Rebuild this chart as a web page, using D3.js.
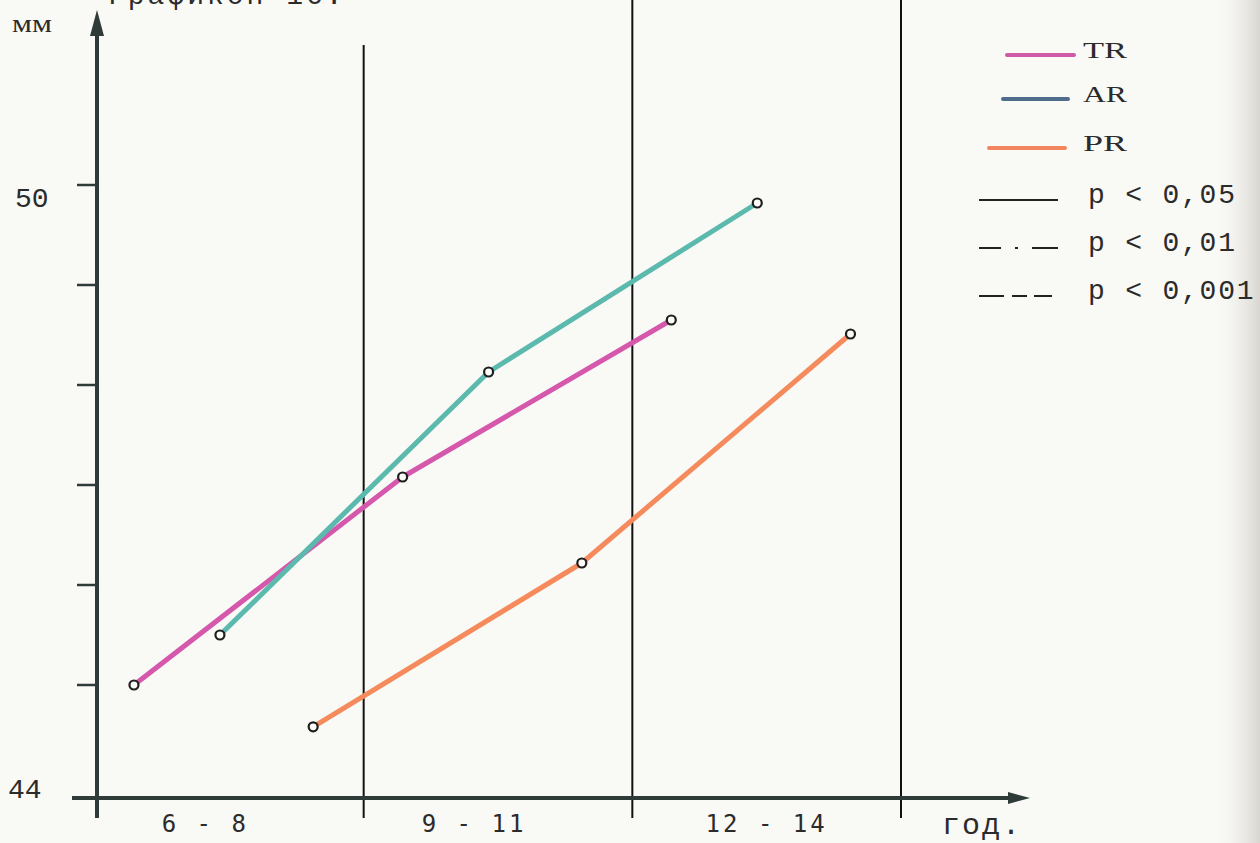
<!DOCTYPE html>
<html>
<head>
<meta charset="utf-8">
<script src="https://cdn.jsdelivr.net/npm/d3@7"></script>
<style>
  html, body { margin: 0; padding: 0; background: #f9f9f6; }
  svg { display: block; }
  .mono { font-family: "Liberation Mono", "Courier New", monospace; fill: #2b2b2b; }
  .serif { font-family: "Liberation Serif", "DejaVu Serif", serif; fill: #2b2b2b; }
  .cat { font-family: "DejaVu Sans Mono", "DejaVu Sans", sans-serif; fill: #2b2b2b; }
</style>
</head>
<body>
<svg width="1260" height="843"></svg>
<script>
const WIDTH = 1260;
const HEIGHT = 843;

// age groups (x axis)
const groups = ['6 - 8', '9 - 11', '12 - 14'];
// rotation types
const series = ['TR', 'AR', 'PR'];
// mean values, mm
const trValues = [45.00, 47.08, 48.65];
const arValues = [45.50, 48.13, 49.82];
const prValues = [44.63, 46.22, 48.51];
const yTicks = [44, 45, 46, 47, 48, 49, 50];
const yLabels = [44, 50];
const pLabels = ['p < 0,05', 'p < 0,01', 'p < 0,001'];

const lineColors = { TR: '#d558ac', AR: '#5cb9ae', PR: '#f58b5c' };
const legendColors = { TR: '#d05aa9', AR: '#4f6d8b', PR: '#f2865e' };
const pDash = ['none', '22,14,3,14,26', '25,8,15,7,18'];
const AXIS = '#2e3b38';

let svg = d3.select('svg');

svg.append('rect')
   .attr('width', WIDTH)
   .attr('height', HEIGHT)
   .attr('fill', '#f9f9f6');

// page curl shading on the right edge
let grad = svg.append('defs').append('linearGradient')
              .attr('id', 'edge')
              .attr('x1', 0).attr('x2', 1).attr('y1', 0).attr('y2', 0);
grad.append('stop').attr('offset', 0).attr('stop-color', '#f9f9f6').attr('stop-opacity', 0);
grad.append('stop').attr('offset', 1).attr('stop-color', '#d9d6d0').attr('stop-opacity', 1);
svg.append('rect')
   .attr('x', 1212).attr('y', 0)
   .attr('width', 48).attr('height', HEIGHT)
   .attr('fill', 'url(#edge)');

// hand drawn axis: the step 44 -> 45 is drawn a bit longer than the others
let y = d3.scaleLinear()
          .domain([44, 45, 50])
          .range([798, 685, 185]);

let x = d3.scaleBand()
          .domain(groups)
          .range([95, 901])
          .padding(0);

// where each rotation type sits inside its age band (fraction of band)
let sub = d3.scaleOrdinal()
            .domain(series)
            .range([0.145, 0.465, 0.812]);

const dataFor = { TR: trValues, AR: arValues, PR: prValues };
const px = (s, i) => x(groups[i]) + sub(s) * x.bandwidth();

// cut off caption at the very top of the page
svg.append('text')
   .attr('class', 'mono')
   .attr('x', 108).attr('y', 4)
   .attr('font-size', 28)
   .attr('letter-spacing', 3)
   .attr('fill', '#444')
   .text('Графикон 16.');

// vertical group dividers
x.domain().forEach((g, i) => {
  let xr = x(g) + x.bandwidth();
  svg.append('line')
     .attr('x1', xr).attr('x2', xr)
     .attr('y1', i === 0 ? 45 : 0).attr('y2', 818)
     .attr('stroke', '#111')
     .attr('stroke-width', 2);
});

// y axis with arrow
svg.append('line')
   .attr('x1', 97).attr('x2', 97)
   .attr('y1', 30).attr('y2', 818)
   .attr('stroke', AXIS).attr('stroke-width', 4);
svg.append('path')
   .attr('d', 'M97,10 L90,36 L104,36 Z')
   .attr('fill', AXIS);

// x axis with arrow
svg.append('line')
   .attr('x1', 72).attr('x2', 1012)
   .attr('y1', y(44)).attr('y2', y(44))
   .attr('stroke', AXIS).attr('stroke-width', 4);
svg.append('path')
   .attr('d', `M1030,${y(44)} L1008,${y(44) - 6} L1008,${y(44) + 6} Z`)
   .attr('fill', AXIS);

svg.selectAll('.ytick')
   .data(yTicks.filter(t => t > 44))
   .enter().append('line')
   .attr('class', 'ytick')
   .attr('x1', 77).attr('x2', 97)
   .attr('y1', d => y(d)).attr('y2', d => y(d))
   .attr('stroke', AXIS).attr('stroke-width', 2.5);

svg.selectAll('.ylab')
   .data(yLabels)
   .enter().append('text')
   .attr('class', 'mono ylab')
   .attr('x', d => d === 50 ? 15 : 8)
   .attr('y', d => d === 50 ? y(d) + 22 : y(d))
   .attr('font-size', 28)
   .text(d => d);

svg.append('text')
   .attr('class', 'serif')
   .attr('x', 12).attr('y', 32)
   .attr('font-size', 26)
   .attr('textLength', 40)
   .attr('lengthAdjust', 'spacingAndGlyphs')
   .text('мм');

svg.selectAll('.cat')
   .data(groups)
   .enter().append('text')
   .attr('class', 'cat')
   .attr('x', (d, i) => x(d) + x.bandwidth() / 2 - (i < 2 ? 24 : 0))
   .attr('y', 832)
   .attr('text-anchor', 'middle')
   .attr('font-size', 24)
   .attr('letter-spacing', 3)
   .text(d => d);

svg.append('text')
   .attr('class', 'mono')
   .attr('x', 942).attr('y', 834)
   .attr('font-size', 30)
   .attr('letter-spacing', 2)
   .text('год.');

// series lines
let line = d3.line()
             .x(d => d[0])
             .y(d => d[1]);

series.forEach(s => {
  let pts = dataFor[s].map((v, i) => [px(s, i), y(v)]);
  svg.append('path')
     .datum(pts)
     .attr('d', line)
     .attr('fill', 'none')
     .attr('stroke', lineColors[s])
     .attr('stroke-width', 5)
     .attr('stroke-linecap', 'round')
     .attr('stroke-linejoin', 'round');
});

series.forEach(s => {
  svg.selectAll('.pt-' + s)
     .data(dataFor[s])
     .enter().append('circle')
     .attr('class', 'pt-' + s)
     .attr('cx', (d, i) => px(s, i))
     .attr('cy', d => y(d))
     .attr('r', 4.5)
     .attr('fill', '#fbfbf8')
     .attr('stroke', '#1e1e1e')
     .attr('stroke-width', 2.2);
});

// legend
let legend = svg.append('g');
const legendRows = [
  { x1: 1007, x2: 1074, y: 55 },
  { x1: 1003, x2: 1068, y: 99 },
  { x1: 989, x2: 1065, y: 148 }
];
series.forEach((s, i) => {
  let r = legendRows[i];
  legend.append('line')
        .attr('x1', r.x1).attr('x2', r.x2)
        .attr('y1', r.y).attr('y2', r.y)
        .attr('stroke', legendColors[s])
        .attr('stroke-width', 4)
        .attr('stroke-linecap', 'round');
  legend.append('text')
        .attr('class', 'serif')
        .attr('x', 1083).attr('y', r.y + 3)
        .attr('font-size', 23)
        .attr('textLength', 44)
        .attr('lengthAdjust', 'spacingAndGlyphs')
        .text(s);
});

pLabels.forEach((p, i) => {
  let ly = 200 + i * 48;
  legend.append('line')
        .attr('x1', 979).attr('x2', 1058)
        .attr('y1', ly).attr('y2', ly)
        .attr('stroke', '#222')
        .attr('stroke-width', 2)
        .attr('stroke-dasharray', pDash[i]);
  legend.append('text')
        .attr('class', 'mono')
        .attr('x', 1088).attr('y', ly + 3)
        .attr('font-size', 28)
        .attr('letter-spacing', 1.8)
        .text(p);
});
</script>
</body>
</html>
